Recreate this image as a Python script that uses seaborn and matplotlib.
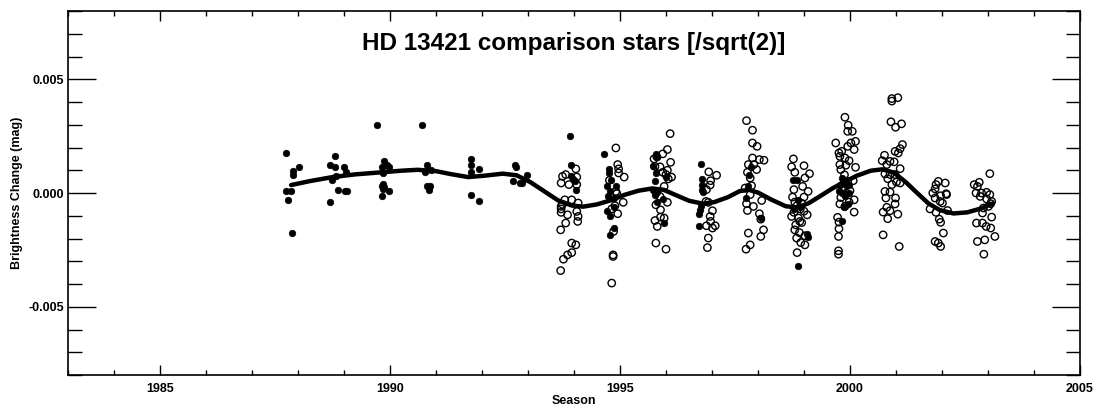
import numpy as np
import matplotlib
matplotlib.use("Agg")
import matplotlib.pyplot as plt
import seaborn as sns
from matplotlib.ticker import MultipleLocator, FormatStrFormatter

# filled circles (season, brightness change in mmag)
filled_year = [
    1987.73, 1987.88, 1987.74, 1987.85, 1987.78, 1987.90, 1987.90, 1988.03,
    1988.80, 1988.70, 1988.80, 1988.99, 1989.05, 1988.83, 1988.73, 1988.86, 1989.02, 1989.06, 1988.70,
    1989.72, 1989.88, 1989.83, 1989.93, 1989.98, 1989.84, 1989.84, 1989.82, 1989.87, 1989.85, 1989.98, 1989.83,
    1990.70, 1990.80, 1990.75, 1990.90, 1990.80, 1990.86, 1990.84,
    1991.77, 1991.77, 1991.75, 1991.93, 1991.75, 1991.93,
    1992.72, 1992.73, 1992.67, 1992.83, 1992.88, 1992.97,
    1993.91, 1993.93, 1993.93, 1993.98, 1994.02, 1994.04,
    1994.66, 1994.77, 1994.76, 1994.80, 1994.71, 1994.91, 1994.78, 1994.73, 1994.86, 1994.71, 1994.78,
    1994.86, 1994.88, 1994.78,
    1995.78, 1995.81, 1995.71, 1995.78, 1996.01, 1995.76, 1995.71, 1995.78, 1995.76, 1995.93, 1995.81, 1995.96,
    1996.76, 1996.78, 1996.78, 1996.78, 1996.80, 1996.75, 1996.74, 1996.72, 1996.72,
    1997.79, 1997.74, 1997.84, 1997.81, 1998.06,
    1998.77, 1998.84, 1998.88, 1998.78, 1998.91, 1999.06, 1999.09, 1998.86,
    1999.82, 1999.85, 1999.78, 1999.76, 1999.91, 1999.98, 1999.82, 1999.89, 1999.98, 1999.95, 1999.88, 1999.83,
]
filled_mmag = [
    1.78, -1.76, 0.07, 0.07, -0.30, 0.95, 0.80, 1.13,
    1.64, 1.22, 1.15, 1.15, 0.93, 0.76, 0.59, 0.15, 0.07, 0.07, -0.41,
    2.98, 1.42, 1.15, 1.25, 1.15, 0.88, 0.41, 0.32, 0.26, 0.19, 0.07, -0.15,
    2.98, 1.22, 0.91, 1.00, 0.29, 0.32, 0.15,
    1.50, 1.22, 0.92, 1.06, -0.07, -0.34,
    1.25, 1.15, 0.51, 0.44, 0.44, 0.79,
    2.49, 1.22, 0.73, 0.62, 0.51, 0.15,
    1.72, 1.07, 0.88, 0.56, 0.29, 0.32, 0.07, -0.15, -0.22, -0.77, -1.00,
    -0.62, -1.54, -1.84,
    1.72, 1.59, 1.17, 0.88, 0.70, 0.51, 0.15, 0.07, -0.07, -0.26, -0.41, -1.32,
    1.28, 0.62, 0.37, 0.11, 0.03, -0.56, -0.74, -0.93, -1.44,
    0.32, -0.22, 1.15, 0.81, -1.10,
    0.59, 0.56, -0.30, -0.70, -0.62, -1.79, -1.94, -3.23,
    0.66, 0.51, 0.37, 0.10, 0.37, 0.37, 0.00, -0.15, 0.00, -0.48, -0.63, -1.22,
]

# open circles (season, brightness change in mmag)
open_year = [
    # 1994
    1993.75, 1993.82, 1993.72, 1993.89, 1994.04, 1994.06, 1994.06, 1993.95, 1994.09, 1993.72, 1993.72,
    1993.72, 1993.86, 1994.06, 1994.09, 1994.08, 1993.82, 1993.71, 1993.95, 1994.04, 1993.95, 1993.86,
    1993.77, 1993.71, 1993.75, 1993.80,
    # 1995
    1994.91, 1994.95, 1994.97, 1994.97, 1995.09, 1994.77, 1994.91, 1994.93, 1995.07, 1994.89, 1994.82,
    1994.95, 1994.86, 1994.85, 1994.85, 1994.82,
    # 1996
    1996.09, 1996.03, 1995.93, 1995.74, 1995.80, 1996.10, 1995.76, 1995.87, 1995.93, 1996.03, 1996.00,
    1996.12, 1996.05, 1995.80, 1995.96, 1995.87, 1996.03, 1995.78, 1995.88, 1995.76, 1995.81, 1995.88,
    1995.96, 1995.78, 1996.00,
    # 1997
    1996.93, 1997.10, 1996.97, 1996.96, 1996.88, 1996.92, 1996.87, 1997.01, 1996.96, 1996.97, 1996.88,
    1997.07, 1997.01, 1996.92, 1996.90,
    # 1998
    1997.75, 1997.88, 1997.88, 1997.98, 1997.88, 1998.03, 1998.13, 1997.79, 1997.91, 1997.77, 1997.97,
    1997.83, 1997.72, 1997.86, 1997.83, 1998.08, 1997.75, 1997.90, 1997.77, 1998.03, 1998.06, 1998.12,
    1998.06, 1997.79, 1997.83, 1997.74,
    # 1999
    1998.77, 1999.00, 1999.12, 1998.73, 1998.80, 1999.02, 1999.09, 1998.97, 1998.78, 1998.75, 1999.00,
    1999.07, 1998.73, 1998.91, 1998.80, 1998.90, 1999.02, 1998.84, 1998.93, 1999.02, 1998.85,
    1998.80, 1998.85, 1998.92, 1998.78, 1998.95, 1999.00, 1998.88, 1998.95, 1998.82,
    # 2000
    1999.89, 1999.96, 1999.95, 2000.05, 2000.12, 2000.02, 1999.95, 1999.69, 2000.09, 1999.76, 1999.82,
    1999.78, 1999.89, 1999.98, 1999.78, 1999.91, 2000.12, 1999.80, 2000.07, 2000.00, 2000.09, 1999.78,
    1999.98, 1999.89, 2000.09, 1999.73, 1999.76, 1999.76, 1999.75, 1999.75, 1999.75,
    1999.85, 1999.92, 1999.80, 1999.95, 1999.88,
    # 2001
    2000.91, 2001.04, 2000.91, 2000.89, 2000.99, 2001.12, 2001.14, 2001.09, 2000.98, 2001.05, 2000.75,
    2000.87, 2000.96, 2000.70, 2000.80, 2001.09, 2000.76, 2000.87, 2000.98, 2000.82, 2001.01, 2000.91,
    2001.09, 2000.76, 2000.87, 2000.78, 2000.99, 2000.98, 2000.80, 2000.87, 2000.72, 2001.04, 2000.82,
    2000.72, 2001.07,
    # 2002
    2001.92, 2002.07, 2001.87, 2001.85, 2001.80, 2001.97, 2002.09, 2002.10, 2001.85, 2001.96, 2002.01,
    2001.74, 2001.87, 2002.12, 2001.94, 2001.97, 2002.03, 2001.85, 2001.92, 2001.97,
    # 2003
    2003.04, 2002.70, 2002.81, 2002.77, 2002.74, 2002.86, 2002.97, 2003.04, 2002.83, 2002.97, 2003.08,
    2003.06, 2003.01, 2002.90, 2002.88, 2002.75, 2002.88, 2002.96, 2003.06, 2003.08, 2003.15, 2002.93,
    2002.77, 2002.91,
]
open_mmag = [
    # 1994
    0.73, 0.81, 0.44, 0.37, 1.06, 0.70, 0.37, -0.30, -0.44, -0.59, -0.70,
    -0.85, -0.96, -0.81, -1.03, -1.25, -1.32, -1.62, -2.20, -2.28, -2.62, -2.72,
    -2.91, -3.41, -0.50, -0.30,
    # 1995
    1.98, 1.25, 1.06, 0.88, 0.70, 0.56, 0.07, -0.03, -0.41, -0.56, -0.70,
    -0.91, -1.69, -2.72, -2.79, -3.96,
    # 1996
    2.61, 1.91, 1.72, 1.50, 1.59, 1.35, 1.17, 1.15, 0.91, 1.00, 0.81,
    0.70, 0.62, 0.03, 0.29, -0.15, -0.41, -0.52, -0.74, -1.21, -1.47, -1.06,
    -1.10, -2.20, -2.47,
    # 1997
    0.93, 0.78, 0.54, 0.35, 0.15, -0.41, -0.37, -0.78, -1.03, -1.25, -1.44,
    -1.44, -1.54, -1.98, -2.40,
    # 1998
    3.18, 2.76, 2.20, 2.05, 1.54, 1.47, 1.44, 1.25, 1.25, 0.91, 1.03,
    0.66, 0.22, 0.32, -0.07, -0.33, -0.47, -0.59, -0.77, -0.91, -1.15, -1.62,
    -1.91, -1.76, -2.28, -2.47,
    # 1999
    1.50, 1.20, 0.85, 1.15, 0.91, 0.66, 0.07, 0.29, 0.15, -0.18, -0.18,
    -0.96, -1.03, -1.25, -1.62, -1.74, -1.88, -1.98, -2.18, -2.28, -2.62,
    -0.40, -0.55, -0.70, -0.85, -0.45, -0.80, -1.10, -1.30, -1.40,
    # 2000
    3.33, 2.98, 2.71, 2.71, 2.27, 2.20, 2.05, 2.20, 1.91, 1.76, 1.83,
    1.61, 1.54, 1.42, 1.25, 1.22, 1.13, 1.03, 0.54, 0.10, -0.30, -0.48,
    -0.40, -0.59, -0.84, -1.07, -1.28, -1.57, -1.91, -2.54, -2.69,
    0.20, 0.00, -0.20, 0.50, 0.80,
    # 2001
    4.15, 4.19, 4.04, 3.13, 2.89, 3.04, 2.13, 1.95, 1.83, 1.76, 1.66,
    1.39, 1.37, 1.42, 1.25, 1.07, 0.84, 0.81, 0.81, 0.63, 0.48, 0.37,
    0.44, 0.07, 0.04, -0.22, -0.22, -0.48, -0.63, -0.78, -0.84, -0.93, -1.13,
    -1.84, -2.35,
    # 2002
    0.51, 0.44, 0.37, 0.18, 0.00, -0.12, -0.03, -0.07, -0.22, -0.37, -0.44,
    -0.70, -0.85, -0.77, -1.15, -1.29, -1.76, -2.13, -2.20, -2.35,
    # 2003
    0.85, 0.37, 0.47, 0.29, 0.00, 0.00, 0.03, -0.07, -0.15, -0.26, -0.37,
    -0.47, -0.59, -0.66, -0.88, -1.32, -1.32, -1.47, -1.54, -1.06, -1.91, -2.06,
    -2.13, -2.69,
]

# smooth fit curve
curve_year = [
    1987.85, 1988.25, 1988.75, 1989.25, 1989.75, 1990.25, 1990.60, 1991.00, 1991.35, 1991.70,
    1992.05, 1992.45, 1992.75, 1993.05, 1993.35, 1993.65, 1993.95, 1994.20, 1994.50, 1994.80,
    1995.10, 1995.40, 1995.70, 1995.95, 1996.20, 1996.50, 1996.80, 1997.05, 1997.35, 1997.60,
    1997.80, 1998.00, 1998.30, 1998.60, 1998.85, 1999.10, 1999.35, 1999.60, 1999.85, 2000.15,
    2000.45, 2000.70, 2000.95, 2001.20, 2001.45, 2001.70, 2001.95, 2002.25, 2002.55, 2002.85,
    2003.10,
]
curve_mmag = [
    0.35, 0.52, 0.70, 0.82, 0.90, 0.98, 1.02, 0.96, 0.82, 0.70,
    0.76, 0.85, 0.78, 0.48, 0.08, -0.32, -0.55, -0.60, -0.50, -0.32,
    -0.08, 0.10, 0.20, 0.14, -0.08, -0.34, -0.47, -0.40, -0.18, 0.08,
    0.14, 0.02, -0.30, -0.58, -0.64, -0.45, -0.14, 0.18, 0.46, 0.76,
    0.98, 1.04, 0.90, 0.50, 0.02, -0.45, -0.75, -0.90, -0.85, -0.68,
    -0.46,
]

sns.set_style("ticks")
plt.rcParams["font.family"] = ["Liberation Sans", "DejaVu Sans"]
plt.rcParams["font.weight"] = "bold"
plt.rcParams["text.color"] = "black"
plt.rcParams["axes.labelcolor"] = "black"
plt.rcParams["xtick.color"] = "black"
plt.rcParams["ytick.color"] = "black"

fig = plt.figure(figsize=(10.99, 4.12), dpi=100)
ax = fig.add_axes([0.0619, 0.0898, 0.9208, 0.8835])

sns.scatterplot(x=open_year, y=np.array(open_mmag) / 1000, ax=ax, marker="o", s=28,
                facecolor="none", edgecolor="black", linewidth=1.0, zorder=2)
sns.scatterplot(x=filled_year, y=np.array(filled_mmag) / 1000, ax=ax, marker="o", s=22,
                color="black", edgecolor="black", linewidth=0.5, zorder=3)
sns.lineplot(x=curve_year, y=np.array(curve_mmag) / 1000, ax=ax, color="black",
             linewidth=3.2, sort=False, estimator=None, zorder=4)

ax.set_xlim(1983, 2005)
ax.set_ylim(-0.008, 0.008)
ax.xaxis.set_major_locator(MultipleLocator(5))
ax.xaxis.set_minor_locator(MultipleLocator(1))
ax.yaxis.set_major_locator(MultipleLocator(0.005))
ax.yaxis.set_minor_locator(MultipleLocator(0.001))
ax.yaxis.set_major_formatter(FormatStrFormatter("%.3f"))

ax.tick_params(which="both", direction="in", top=True, right=True, width=1, colors="black")
ax.tick_params(axis="x", which="major", length=7, pad=6, labelsize=9)
ax.tick_params(axis="x", which="minor", length=3.5)
ax.tick_params(axis="y", which="major", length=20, pad=3, labelsize=9)
ax.tick_params(axis="y", which="minor", length=10)
for sp in ax.spines.values():
    sp.set_linewidth(1.2)
    sp.set_color("black")

ax.set_xlabel("Season", fontsize=9, fontweight="bold", labelpad=0, color="black")
ax.set_ylabel("Brightness Change (mag)", fontsize=9, fontweight="bold", labelpad=4, color="black")
ax.text(0.5, 0.91, "HD 13421 comparison stars [/sqrt(2)]", transform=ax.transAxes,
        ha="center", va="center", fontsize=17.5, fontweight="bold", color="black")

fig.savefig("out.png", dpi=100)
